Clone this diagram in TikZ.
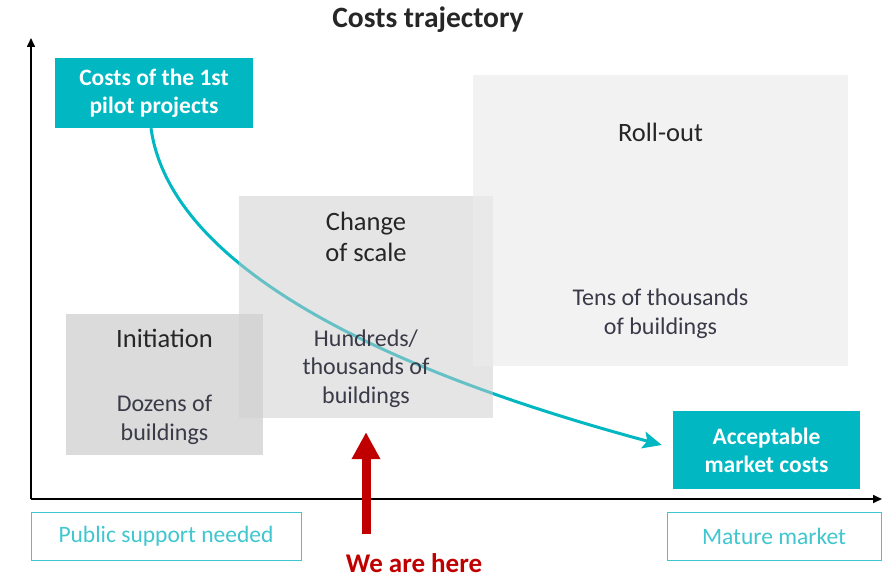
\documentclass[tikz,border=0pt]{standalone}
\usepackage{fontspec}
\setmainfont{Carlito}
\usepackage{tikz}
\usetikzlibrary{calc, positioning}
\usetikzlibrary{shapes, arrows.meta}
\definecolor{tealc}{HTML}{00B7C2}
\definecolor{tealline}{HTML}{3FC6CF}
\definecolor{herered}{HTML}{C00000}
\definecolor{txtdark}{HTML}{262626}
\definecolor{txtsub}{HTML}{3A3A48}
\tikzset{
    x=1pt, y=-1pt,% one unit is one pixel of the reference, y grows downwards
    axis/.style = {line width=1.6pt, -{Triangle[length=9pt,width=8pt]}},
    tealbox/.style = {rectangle, fill=tealc, text=white, inner sep=0pt, align=center, font=\fontsize{23.5}{28}\selectfont\bfseries},
    phase/.style = {rectangle, inner sep=0pt}, % grey zones, no text inside
    head/.style = {align=center, text=txtdark, font=\fontsize{26.5}{31}\selectfont},
    sub/.style = {align=center, text=txtsub, font=\fontsize{24}{28.5}\selectfont},
    market/.style = {rectangle, draw=tealline, line width=1pt, text=tealline, inner sep=0pt, font=\fontsize{23.5}{26}\selectfont},
    trend/.style = {draw=tealc, line width=3pt, -{Stealth[length=19pt,width=17pt,inset=4pt]}},
    herearrow/.style = {draw=herered, line width=9pt, -{Triangle[length=27pt,width=27pt]}}
}
\begin{document}
\begin{tikzpicture}
    \useasboundingbox (0,0) rectangle (884,578);
    % title and axes
    \node[text=txtdark, font=\fontsize{29.5}{34}\selectfont\bfseries] (title) at (428,20) {Costs trajectory};
    \coordinate (origin) at (31,499);
    \draw[axis] (origin) -- (31,38);
    \draw[axis] (origin) -- (882,499);
    % start and end of the trajectory
    \node[tealbox, minimum width=198pt, minimum height=70pt] (pilot) at (154,93) {Costs of the 1st\\pilot projects};
    \node[tealbox, minimum width=187pt, minimum height=78pt] (accept) at (766.5,450) {Acceptable\\market costs};
    \draw[trend] ([xshift=-3pt]pilot.south) .. controls (165,230) and (290,345) .. ([xshift=-11pt,yshift=5pt]accept.west);
    % the three phases
    \node[phase, fill=black!20, fill opacity=0.5, minimum width=254pt, minimum height=222pt] (scale) at (366,307) {};
    \node[phase, fill=black!18, fill opacity=0.78, minimum width=197pt, minimum height=141pt] (init) at (164.5,384.5) {};
    \node[phase, fill=black!8, fill opacity=0.65, minimum width=375pt, minimum height=291pt] (rollout) at (660.5,220.5) {};
    \node[head] (initT) at ([yshift=-25pt]init.north) {Initiation};
    \node[sub] (initS) at ([yshift=-106pt]init.north) {Dozens of\\buildings};
    \node[head] (scaleT) at ([yshift=-41.5pt]scale.north) {Change\\of scale};
    \node[sub] (scaleS) at ([yshift=-172.5pt]scale.north) {Hundreds/\\thousands of\\buildings};
    \node[head] (rolloutT) at ([yshift=-58pt]rollout.north) {Roll-out};
    \node[sub] (rolloutS) at ([yshift=-239pt]rollout.north) {Tens of thousands\\of buildings};
    % bottom labels
    \node[market, minimum width=270pt, minimum height=48pt] (public) at (166,536) {Public support needed};
    \node[market, minimum width=214pt, minimum height=48pt] (mature) at (774,536) {Mature market};
    \coordinate (here) at (366,534);
    \draw[herearrow] (here) -- ([yshift=-14pt]scale.south);
    \node[text=herered, inner sep=0pt, font=\fontsize{27}{30}\selectfont\bfseries] (hereT) at (414,563) {We are here};
\end{tikzpicture}
\end{document}
